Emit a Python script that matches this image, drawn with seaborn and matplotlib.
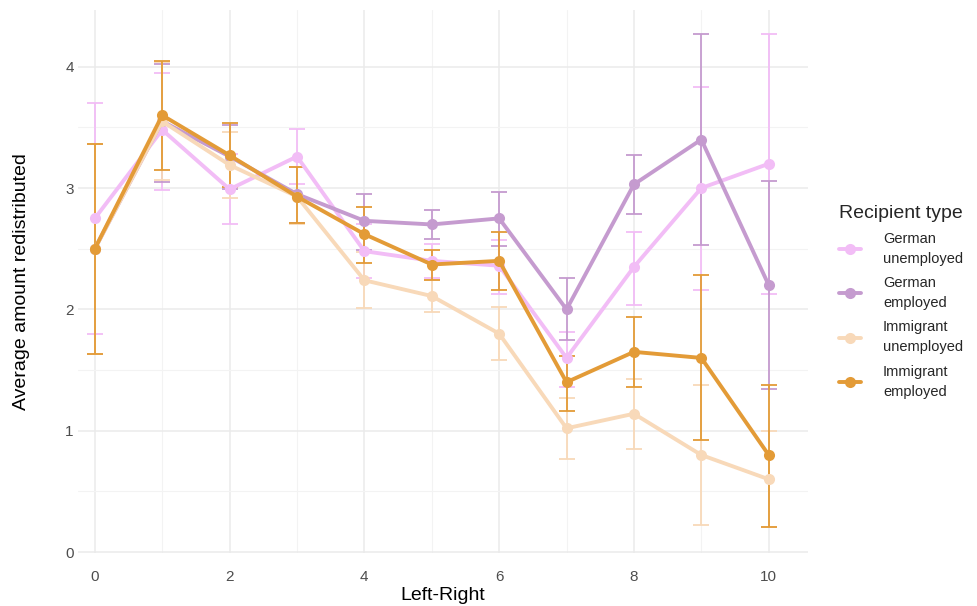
import numpy as np
import pandas as pd
import matplotlib
matplotlib.use("Agg")
import matplotlib.pyplot as plt
from matplotlib.lines import Line2D
import seaborn as sns

# ---------------- data ----------------
left_right = [0, 1, 2, 3, 4, 5, 6, 7, 8, 9, 10]
recipient_types = ["German\nunemployed", "German\nemployed",
                   "Immigrant\nunemployed", "Immigrant\nemployed"]

german_unemp_mean = [2.75, 3.48, 2.99, 3.26, 2.48, 2.40, 2.36, 1.60, 2.35, 3.00, 3.20]
german_unemp_lo   = [1.80, 2.98, 2.70, 3.03, 2.26, 2.26, 2.13, 1.36, 2.04, 2.16, 2.13]
german_unemp_hi   = [3.70, 3.95, 3.28, 3.49, 2.70, 2.54, 2.57, 1.81, 2.64, 3.83, 4.27]

german_emp_mean = [2.50, 3.55, 3.26, 2.95, 2.73, 2.70, 2.75, 2.00, 3.03, 3.40, 2.20]
german_emp_lo   = [1.63, 3.05, 2.99, 2.71, 2.49, 2.58, 2.52, 1.75, 2.79, 2.53, 1.34]
german_emp_hi   = [3.36, 4.02, 3.52, 3.17, 2.95, 2.82, 2.97, 2.26, 3.27, 4.27, 3.06]

immig_unemp_mean = [2.50, 3.55, 3.19, 2.93, 2.24, 2.11, 1.80, 1.02, 1.14, 0.80, 0.60]
immig_unemp_lo   = [1.63, 3.07, 2.92, 2.70, 2.01, 1.98, 1.58, 0.77, 0.85, 0.22, 0.21]
immig_unemp_hi   = [3.36, 4.04, 3.46, 3.17, 2.47, 2.24, 2.02, 1.27, 1.43, 1.38, 1.00]

immig_emp_mean = [2.50, 3.60, 3.27, 2.93, 2.62, 2.37, 2.40, 1.40, 1.65, 1.60, 0.80]
immig_emp_lo   = [1.63, 3.15, 3.01, 2.71, 2.38, 2.24, 2.16, 1.16, 1.36, 0.92, 0.21]
immig_emp_hi   = [3.36, 4.05, 3.54, 3.17, 2.84, 2.49, 2.64, 1.62, 1.94, 2.28, 1.38]

colors = ["#F2BDF6", "#C59BCF", "#F8D9B9", "#E39B37"]

means = [german_unemp_mean, german_emp_mean, immig_unemp_mean, immig_emp_mean]
los = [german_unemp_lo, german_emp_lo, immig_unemp_lo, immig_emp_lo]
his = [german_unemp_hi, german_emp_hi, immig_unemp_hi, immig_emp_hi]

rows = []
for t, m, lo, hi in zip(recipient_types, means, los, his):
    for x, mv, l, h in zip(left_right, m, lo, hi):
        rows.append({"Left-Right": x, "mean": mv, "lo": l, "hi": h, "type": t})
df = pd.DataFrame(rows)

# ---------------- style ----------------
sns.set_theme(style="whitegrid")
plt.rcParams["font.family"] = ["Liberation Sans", "DejaVu Sans"]

fig = plt.figure(figsize=(9.77, 6.06), dpi=100)
ax = fig.add_axes([0.0798, 0.087, 0.747, 0.897])

palette = dict(zip(recipient_types, colors))

# error bars first
for i, t in enumerate(recipient_types):
    sub = df[df["type"] == t]
    yerr = np.vstack([sub["mean"] - sub["lo"], sub["hi"] - sub["mean"]])
    ax.errorbar(sub["Left-Right"], sub["mean"], yerr=yerr, fmt="none",
                ecolor=palette[t], elinewidth=1.3, capsize=6, capthick=1.3,
                zorder=2 + i * 0.01)

sns.lineplot(data=df, x="Left-Right", y="mean", hue="type",
             hue_order=recipient_types, palette=palette,
             marker="o", markersize=8, markeredgewidth=0,
             linewidth=2.8, legend=False, ax=ax, zorder=3)

ax.set_xlim(-0.25, 10.58)
ax.set_ylim(-0.01, 4.47)
ax.set_xticks([0, 2, 4, 6, 8, 10])
ax.set_xticks([1, 3, 5, 7, 9], minor=True)
ax.set_yticks([0, 1, 2, 3, 4])
ax.set_yticks([0.5, 1.5, 2.5, 3.5], minor=True)
ax.grid(which="major", color="#EBEBEB", linewidth=1.1)
ax.grid(which="minor", color="#F3F3F3", linewidth=0.8)
for s in ax.spines.values():
    s.set_visible(False)
ax.tick_params(axis="both", which="both", length=0, labelsize=11,
               labelcolor="#4D4D4D")
ax.tick_params(axis="x", pad=12)
ax.tick_params(axis="y", pad=3)
ax.set_facecolor("white")
ax.set_xlabel("Left-Right", fontsize=14, color="black")
ax.set_ylabel("Average amount redistributed", fontsize=14, color="black")
ax.xaxis.set_label_coords(0.5, -0.062)
ax.yaxis.set_label_coords(-0.066, 0.5)

handles = [Line2D([0], [0], color=c, lw=2.8, marker="o", markersize=8,
                  markeredgewidth=0) for c in colors]
leg = fig.legend(handles, recipient_types, title="Recipient type",
                 loc="upper left", bbox_to_anchor=(0.853, 0.672),
                 frameon=False, fontsize=10.5, title_fontsize=14,
                 handlelength=1.5, handletextpad=1.5, labelspacing=0.7,
                 borderaxespad=0)
leg._legend_box.align = "left"
for txt in leg.get_texts():
    txt.set_linespacing(1.55)

fig.savefig("out.png", dpi=100, facecolor="white")
